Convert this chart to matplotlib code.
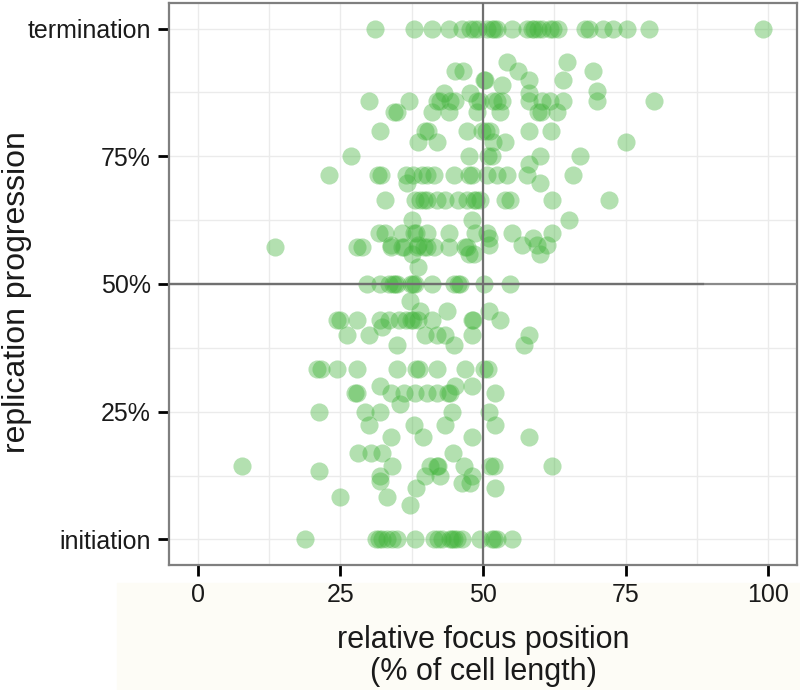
import matplotlib
matplotlib.use("Agg")
import matplotlib.pyplot as plt
from matplotlib.patches import Rectangle
from matplotlib.ticker import MultipleLocator

plt.rcParams['font.family'] = ['Liberation Sans', 'DejaVu Sans']

# replication progression (0 = initiation, 1 = termination) for each row of foci
progress_levels = [1.0, 0.934, 0.916, 0.90, 0.889, 0.878, 0.874, 0.858, 0.836, 0.80,
                   0.778, 0.75, 0.734, 0.714, 0.698, 0.665, 0.626, 0.60, 0.59, 0.577,
                   0.572, 0.558, 0.534, 0.5, 0.467, 0.447, 0.429, 0.415, 0.40, 0.38,
                   0.333, 0.30, 0.286, 0.266, 0.25, 0.223, 0.20, 0.17, 0.143, 0.133,
                   0.125, 0.115, 0.11, 0.10, 0.084, 0.068, 0.0]

# relative focus position (% of cell length) of the foci in each row
focus_by_level = [
    [31.0, 38.0, 41.1, 44.1, 46.3, 47.8, 48.5, 49.2, 50.7, 51.5, 52.0, 52.4, 55.0, 57.7,
     58.5, 59.0, 59.7, 60.3, 61.7, 62.2, 63.2, 67.8, 68.5, 71.1, 72.8, 75.2, 79.1, 99.0],
    [54.2, 64.8],
    [45.1, 46.5, 56.1, 69.2],
    [50.1, 50.4, 58.0, 64.0],
    [53.4],
    [69.9],
    [43.1, 47.8, 58.0],
    [30.0, 37.0, 41.9, 42.4, 44.3, 45.1, 48.9, 49.4, 51.8, 52.4, 53.3, 58.0, 60.3, 61.7,
     64.1, 69.9, 79.9],
    [34.4, 34.9, 41.1, 44.0, 48.9, 53.0, 59.7, 60.2, 62.9],
    [32.0, 39.9, 40.3, 47.2, 49.8, 50.6, 51.2, 58.0, 61.9],
    [38.7, 41.9, 51.8, 53.9, 75.0],
    [26.8, 47.5, 50.9, 51.5, 60.0, 67.0],
    [58.0],
    [23.0, 31.6, 32.2, 36.5, 37.8, 39.4, 40.2, 41.4, 44.9, 47.5, 48.0, 50.7, 52.4, 54.2,
     57.7, 65.8],
    [36.7, 60.0],
    [32.9, 38.1, 39.0, 39.6, 40.2, 41.9, 43.4, 45.7, 47.2, 48.4, 48.8, 49.5, 53.9, 54.8,
     62.0, 72.1],
    [37.6, 48.1, 65.0],
    [31.7, 32.9, 35.8, 37.9, 38.3, 40.2, 44.0, 48.6, 50.7, 55.1, 62.0],
    [51.0, 58.8],
    [33.8, 38.7, 51.0, 56.8, 59.4, 61.2],
    [13.5, 28.0, 28.8, 33.8, 35.8, 36.2, 38.4, 39.6, 40.2, 41.4, 44.0, 46.9, 47.2],
    [37.6, 47.5, 48.4, 60.0],
    [38.7],
    [29.7, 32.0, 33.5, 34.2, 34.6, 34.9, 37.4, 37.8, 38.1, 41.1, 45.0, 45.6, 46.0, 50.1,
     54.8],
    [37.3],
    [39.0, 43.7, 51.0],
    [24.5, 25.0, 27.9, 32.0, 33.5, 35.3, 36.6, 37.4, 37.8, 38.6, 41.1, 48.1, 48.3, 53.0],
    [32.3],
    [26.2, 30.0, 39.9, 41.9, 43.4, 48.1, 58.0],
    [34.9, 44.9, 57.1],
    [21.0, 21.7, 24.5, 27.9, 34.9, 38.2, 38.8, 41.9, 46.9, 50.2, 50.8],
    [32.0, 45.1, 48.1],
    [27.6, 28.0, 33.8, 36.1, 38.1, 40.2, 41.9, 43.8, 44.3, 52.1],
    [35.5],
    [21.3, 29.3, 32.0, 44.6, 51.0],
    [30.0, 37.9, 43.4, 52.1],
    [33.8, 39.5, 48.1, 58.0],
    [28.1, 30.3, 32.3, 44.8],
    [7.7, 34.1, 40.8, 41.9, 42.2, 46.6, 51.3, 52.0, 62.0],
    [21.3],
    [32.0, 39.9, 42.5, 48.1],
    [32.0],
    [46.3, 47.8],
    [38.3, 52.1],
    [25.0, 33.2],
    [37.3],
    [18.8, 31.2, 31.8, 32.3, 33.2, 34.1, 35.0, 38.1, 41.4, 42.2, 42.9, 44.2, 44.6, 45.0,
     45.4, 46.3, 49.5, 51.6, 52.0, 52.4, 55.0],
]

x_ticks = [0, 25, 50, 75, 100]
y_ticks = [0, 0.25, 0.5, 0.75, 1]
y_tick_labels = ['initiation', '25%', '50%', '75%', 'termination']

xs, ys = [], []
for lev, row in zip(progress_levels, focus_by_level):
    xs += row
    ys += [lev] * len(row)

fig = plt.figure(figsize=(8, 6.9), dpi=100)
# pale band behind the x axis text
band = Rectangle((117 / 800, 0), 683 / 800, 107 / 690, transform=fig.transFigure,
                 color='#fdfcf6', zorder=-10)
fig.add_artist(band)

ax = fig.add_axes([0.21125, 0.1812, 0.785, 0.8145])
ax.scatter(xs, ys, s=170, color='#41b33a', alpha=0.4, linewidths=0, zorder=2)
ax.axvline(50, color='#707070', lw=1.6, zorder=3)
ax.axhline(0.5, color='#8a8a8a', lw=1.6, zorder=3)
ax.plot([-5, 88.6], [0.5, 0.5], color='#707070', lw=1.6, zorder=3)

ax.set_xlim(-5, 105)
ax.set_ylim(-0.05, 1.05)
ax.set_xticks(x_ticks)
ax.set_yticks(y_ticks)
ax.set_yticklabels(y_tick_labels)
ax.xaxis.set_minor_locator(MultipleLocator(12.5))
ax.yaxis.set_minor_locator(MultipleLocator(0.125))
ax.grid(True, which='both', color='#ebebeb', lw=1.0, zorder=0)
ax.set_axisbelow(True)

ax.tick_params(which='major', length=8, width=2, color='black',
               labelsize=18, labelcolor='#1a1a1a', pad=5)
ax.tick_params(which='minor', length=0)
for sp in ax.spines.values():
    sp.set_color('#7f7f7f')
    sp.set_linewidth(1.6)

ax.set_xlabel('relative focus position\n(% of cell length)', fontsize=22,
              color='#1a1a1a', labelpad=13, linespacing=1.1)
ax.set_ylabel('replication progression', fontsize=23, color='#1a1a1a', va='center')
ax.yaxis.set_label_coords(-152 / 628, 0.485)

fig.savefig('out.png', dpi=100)
